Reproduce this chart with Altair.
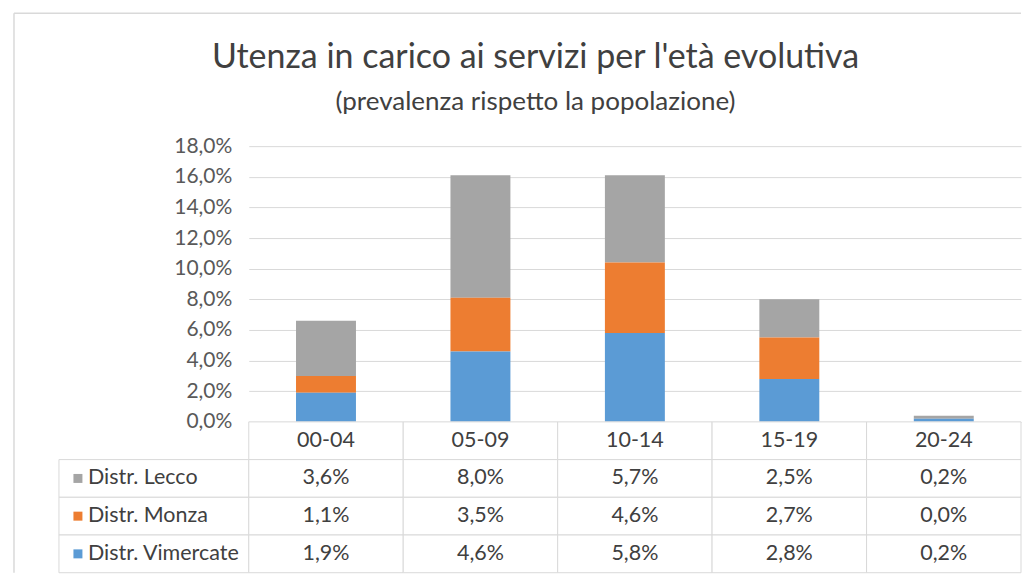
import altair as alt
import pandas as pd

# ---- data ----
categories = ["00-04", "05-09", "10-14", "15-19", "20-24"]
series = ["Distr. Lecco", "Distr. Monza", "Distr. Vimercate"]
lecco = [3.6, 8.0, 5.7, 2.5, 0.2]
monza = [1.1, 3.5, 4.6, 2.7, 0.0]
vimercate = [1.9, 4.6, 5.8, 2.8, 0.2]
colors = ["#A5A5A5", "#ED7D31", "#5B9BD5"]
y_ticks = [0.0, 0.02, 0.04, 0.06, 0.08, 0.10, 0.12, 0.14, 0.16, 0.18]

values_by_series = {"Distr. Lecco": lecco, "Distr. Monza": monza, "Distr. Vimercate": vimercate}
stack_rank = {"Distr. Vimercate": 0, "Distr. Monza": 1, "Distr. Lecco": 2}

rows = []
for s in series:
    for c, v in zip(categories, values_by_series[s]):
        rows.append({"categoria": c, "serie": s, "valore": v / 100.0, "ordine": stack_rank[s]})
df = pd.DataFrame(rows)

row_domain = ["header"] + series
table_rows = [{"col": c, "riga": "header", "testo": c} for c in categories]
for s in series:
    for c, v in zip(categories, values_by_series[s]):
        table_rows.append({"col": c, "riga": s, "testo": f"{v:.1f}%".replace(".", ",")})
table_df = pd.DataFrame(table_rows)
label_df = pd.DataFrame({"riga": series})

FONT = "Lato"
GRID = "#D9D9D9"
TXT = "#404040"
PLOT_W = 773
PLOT_H = 276
TABLE_H = 151
LABEL_W = 190

x_scale = alt.Scale(domain=categories, paddingInner=0, paddingOuter=0)
row_scale = alt.Scale(domain=row_domain, paddingInner=0, paddingOuter=0)
color_scale = alt.Scale(domain=series, range=colors)

bars = alt.Chart(df).mark_bar(size=60).encode(
    x=alt.X("categoria:N", sort=categories, scale=x_scale, axis=None),
    y=alt.Y(
        "valore:Q",
        stack="zero",
        scale=alt.Scale(domain=[0, 0.18], nice=False),
        axis=alt.Axis(
            values=y_ticks,
            labelExpr="replace(format(datum.value, '.1%'), '.', ',')",
            title=None,
            domain=False,
            ticks=False,
            grid=True,
            gridColor=GRID,
            labelFont=FONT,
            labelFontSize=21,
            labelColor="#595959",
            labelPadding=17,
        ),
    ),
    color=alt.Color("serie:N", scale=color_scale, legend=None),
    order=alt.Order("ordine:Q"),
).properties(width=PLOT_W, height=PLOT_H)

# border of the chart area
border_df = pd.DataFrame({"k": [0]})
top_line = alt.Chart(border_df).mark_rule(color=GRID, strokeWidth=1.5).encode(
    x=alt.value(-45), x2=alt.value(LABEL_W + PLOT_W), y=alt.value(-133)
)
left_line = alt.Chart(border_df).mark_rule(color=GRID, strokeWidth=1.5).encode(
    x=alt.value(-45), y=alt.value(-133), y2=alt.value(PLOT_H + TABLE_H)
)
spacer = (top_line + left_line).properties(width=LABEL_W, height=PLOT_H)

# data table: values
tbase = alt.Chart(table_df).encode(
    x=alt.X("col:N", scale=x_scale, axis=None),
    y=alt.Y("riga:N", scale=row_scale, axis=None),
)
cells = tbase.mark_rect(fill="white", stroke=GRID, strokeWidth=1)
texts = tbase.mark_text(font=FONT, fontSize=21.5, color=TXT).encode(text="testo:N")
values_table = (cells + texts).properties(width=PLOT_W, height=TABLE_H)

# data table: legend column
lbase = alt.Chart(label_df).encode(y=alt.Y("riga:N", scale=row_scale, axis=None))
lcells = lbase.mark_rect(fill="white", stroke=GRID, strokeWidth=1).encode(
    x=alt.value(0), x2=alt.value(LABEL_W)
)
lsquares = lbase.mark_square(size=81, filled=True, opacity=1).encode(
    x=alt.value(19), color=alt.Color("riga:N", scale=color_scale, legend=None)
)
ltexts = lbase.mark_text(font=FONT, fontSize=21.5, color=TXT, align="left").encode(
    x=alt.value(29), text="riga:N"
)
labels = (lcells + lsquares + ltexts).properties(width=LABEL_W, height=TABLE_H)

chart = alt.concat(
    spacer, bars, labels, values_table, columns=2, spacing=0, bounds="flush"
).properties(
    title=alt.TitleParams(
        text="Utenza in carico ai servizi per l'età evolutiva",
        subtitle="(prevalenza  rispetto la popolazione)",
        font=FONT,
        fontSize=34,
        fontWeight="normal",
        color=TXT,
        subtitleFont=FONT,
        subtitleFontSize=26,
        subtitleColor=TXT,
        subtitlePadding=14,
        anchor="middle",
        frame="bounds",
        offset=-103,
        dx=18,
    ),
    padding={"left": 5, "top": 4, "right": 2, "bottom": 1},
).configure_view(stroke=None)

chart.save("out.html", embed_options={"renderer": "svg", "actions": False})
